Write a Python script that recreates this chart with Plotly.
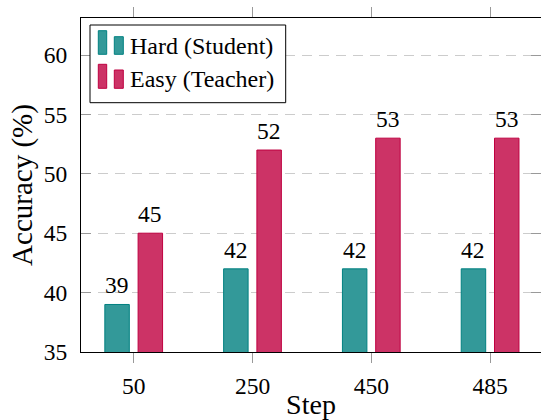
import plotly.graph_objects as go

# Accuracy at each training step
steps = ["50", "250", "450", "485"]
hard_student = [39, 42, 42, 42]
easy_teacher = [45, 52, 53, 53]
series_names = ["Hard (Student)", "Easy (Teacher)"]
y_ticks = [35, 40, 45, 50, 55, 60]

FONT = "Liberation Serif"
W, H = 541, 420
ML, MR, MT, MB = 81, 0, 18, 68
PW, PH = W - ML - MR, H - MT - MB

fills = ["#339999", "#cc3366"]
edges = ["#008080", "#bf0040"]
bar_w = 0.206
centers = [-0.14, 0.14]
x_pos = list(range(len(steps)))

fig = go.Figure()
for vals, name, fc, ec, c in zip([hard_student, easy_teacher], series_names, fills, edges, centers):
    fig.add_trace(go.Bar(
        x=x_pos, y=vals, name=name, width=bar_w, offset=c - bar_w / 2,
        marker=dict(color=fc, line=dict(color=ec, width=1)),
        showlegend=False,
    ))
    for xi, v in zip(x_pos, vals):
        fig.add_annotation(x=xi + c, y=v, text=str(v), showarrow=False,
                           yshift=19, yanchor="middle",
                           font=dict(family=FONT, size=23.5, color="black"))


def px_x(px):
    return (px - ML) / PW


def px_y(py):
    return (MT + PH - py) / PH


# legend box with two small bar glyphs per entry
fig.add_shape(type="rect", xref="paper", yref="paper", layer="above",
              x0=px_x(90), x1=px_x(285.7), y0=px_y(102.7), y1=px_y(25),
              line=dict(color="black", width=1), fillcolor="white")
rows = [(30.7, 36.7, 54.3, 46), (64.3, 70.0, 88.3, 79)]
for (ta, tb, bot, ty), name, fc, ec in zip(rows, series_names, fills, edges):
    fig.add_shape(type="rect", xref="paper", yref="paper", layer="above",
                  x0=px_x(98.3), x1=px_x(106.7), y0=px_y(bot), y1=px_y(ta),
                  line=dict(color=ec, width=1), fillcolor=fc)
    fig.add_shape(type="rect", xref="paper", yref="paper", layer="above",
                  x0=px_x(114.3), x1=px_x(123.3), y0=px_y(bot), y1=px_y(tb),
                  line=dict(color=ec, width=1), fillcolor=fc)
    fig.add_annotation(xref="paper", yref="paper", x=px_x(128), y=px_y(ty),
                       xanchor="left", yanchor="middle", showarrow=False,
                       text=name, font=dict(family=FONT, size=24, color="black"))

x_lo = -52.7 / 118.8
fig.update_layout(
    width=W, height=H,
    margin=dict(l=ML, r=MR, t=MT, b=MB, pad=0),
    paper_bgcolor="white", plot_bgcolor="white",
    barmode="overlay",
    font=dict(family=FONT, size=23.5, color="black"),
    xaxis=dict(
        range=[x_lo, x_lo + PW / 118.8],
        tickmode="array", tickvals=x_pos, ticktext=steps,
        ticks="outside", ticklen=10, tickcolor="#999999", tickwidth=1,
        showline=True, linecolor="black", linewidth=1, mirror="ticks",
        showgrid=False, zeroline=False,
        tickfont=dict(family=FONT, size=23.5),
        ticklabelstandoff=3,
        title=dict(text="Step", font=dict(family=FONT, size=28), standoff=2),
    ),
    yaxis=dict(
        range=[35, 35 + PH / 11.88],
        tickmode="array", tickvals=y_ticks,
        ticks="inside", ticklen=10, tickcolor="#999999", tickwidth=1,
        showline=True, linecolor="black", linewidth=1, mirror="ticks",
        showgrid=True, gridcolor="#cccccc", gridwidth=1, griddash="10px,7px",
        zeroline=False,
        tickfont=dict(family=FONT, size=23.5),
        ticklabelstandoff=8,
        title=dict(text="Accuracy (%)", font=dict(family=FONT, size=29), standoff=2),
    ),
)

fig.write_html("out.html")
